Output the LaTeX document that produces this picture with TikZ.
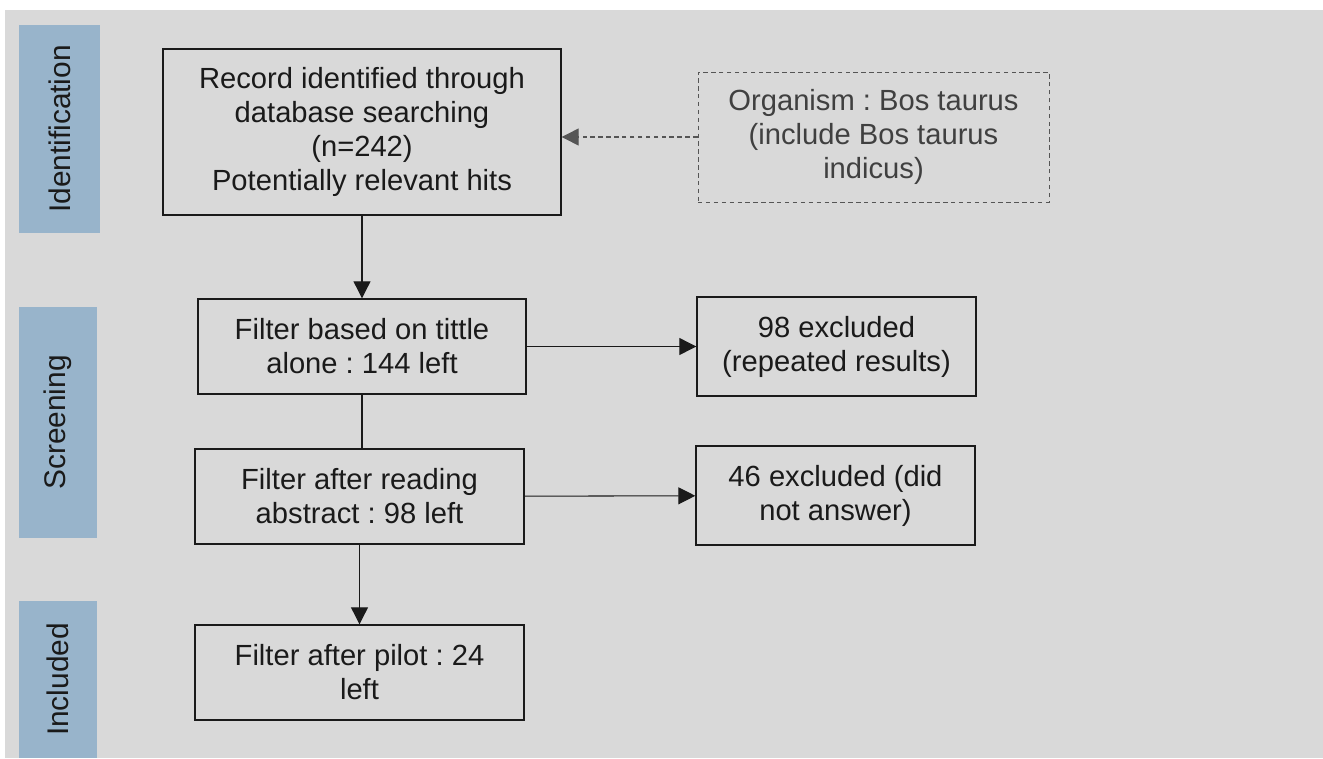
\documentclass[tikz,border=0pt]{standalone}
\usepackage{fontspec}
\setmainfont{Liberation Sans}
\usetikzlibrary{arrows.meta}
\frenchspacing

\definecolor{fondgris}{HTML}{D9D9D9}
\definecolor{phasebleu}{HTML}{98B4CB}
\definecolor{encre}{HTML}{1A1A1A}
\definecolor{pointille}{HTML}{555555}

\begin{document}
\begin{tikzpicture}[x=0.02cm,y=-0.02cm,
  boite/.style={draw=encre, line width=0.8pt, align=center, inner sep=0pt,
    text=encre, font=\fontsize{16.6}{19.4}\selectfont},
  phase/.style={fill=phasebleu, inner sep=0pt, rotate=90, text=encre,
    font=\fontsize{17}{19}\selectfont},
  fleche/.style={-{Triangle[length=0.34cm,width=0.34cm]}, line width=0.6pt, draw=encre}]

% ===== Fond =====
\useasboundingbox (0,0) rectangle (1323,758);
\fill[white] (0,0) rectangle (1323,758);
\fill[fondgris] (5,10) rectangle (1323,758);

% ===== Bandes des phases =====
\node[phase, minimum width=4.16cm, minimum height=1.62cm] (ident) at (59.5,129) {Identification};
\node[phase, minimum width=4.62cm, minimum height=1.56cm] (screen) at (58,422.5) {Screening};
\node[phase, minimum width=3.14cm, minimum height=1.56cm] (incl) at (58,679.5) {Included};

% ===== Boites =====
\node[boite, minimum width=7.96cm, minimum height=3.32cm] (rec) at (362,132)
  {Record identified through\\database searching\\(n=242)\\Potentially relevant hits};
\node[boite, draw=pointille, line width=0.5pt, dash pattern=on 2.5pt off 2pt,
  text=black!75, minimum width=7.02cm, minimum height=2.6cm] (org) at (873.5,137)
  {Organism : Bos taurus\\(include Bos taurus\\indicus)};

\node[boite, minimum width=6.56cm, minimum height=1.9cm] (titre) at (362,346.5)
  {Filter based on tittle\\alone : 144 left};
\node[boite, minimum width=5.58cm, minimum height=1.98cm] (excl1) at (836.5,346.5)
  {98 excluded\\(repeated results)};

\node[boite, minimum width=6.58cm, minimum height=1.9cm] (lecture) at (359.5,496.5)
  {Filter after reading\\abstract : 98 left};
\node[boite, minimum width=5.58cm, minimum height=1.98cm] (excl2) at (835.5,495.5)
  {46 excluded (did\\not answer)};

\node[boite, minimum width=6.58cm, minimum height=1.9cm] (pilote) at (359.5,672.5)
  {Filter after pilot : 24\\left};

% ===== Liaisons =====
\draw[fleche] (rec) -- (titre);
\draw[line width=0.6pt, draw=encre] (titre.south) -- (titre.south |- lecture.north);
\draw[fleche] (lecture) -- (pilote);
\draw[fleche] (titre) -- (excl1);
\draw[fleche] (lecture) -- (excl2);
\draw[fleche, draw=pointille, dash pattern=on 2.5pt off 2pt] (org.west) -- (rec.east |- org.west);

\end{tikzpicture}
\end{document}
